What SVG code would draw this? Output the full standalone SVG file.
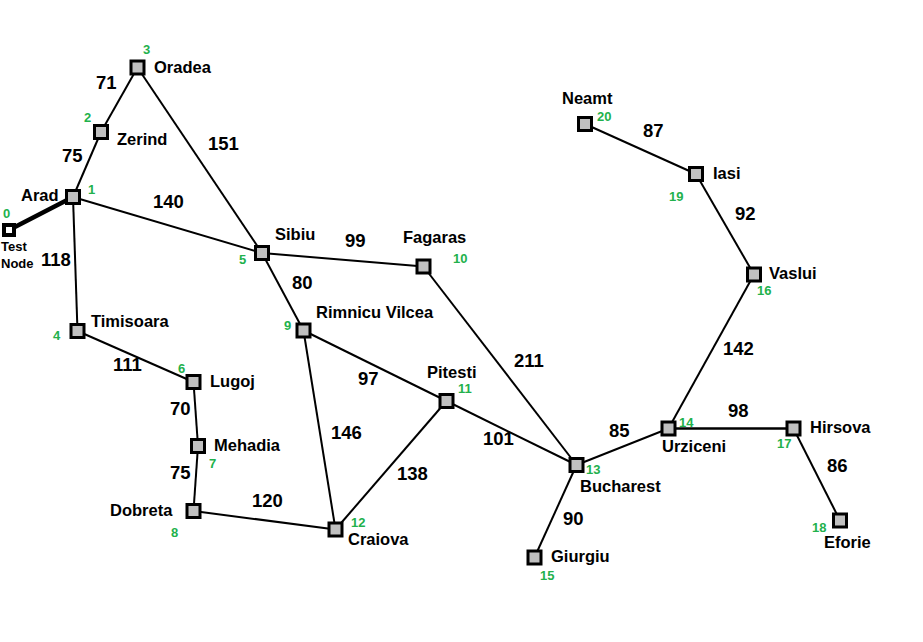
<svg xmlns="http://www.w3.org/2000/svg" width="923" height="642" viewBox="0 0 923 642">
<style>
.e{stroke:#000;stroke-width:2;fill:none}
.n{fill:#c0c0c0;stroke:#000;stroke-width:3}
.l{font-family:"Liberation Sans",Arial,sans-serif;font-weight:bold;font-size:16.5px;fill:#000}
.w{font-family:"Liberation Sans",Arial,sans-serif;font-weight:bold;font-size:18.5px;fill:#000}
.g{font-family:"Liberation Sans",Arial,sans-serif;font-weight:bold;font-size:13px;fill:#22b14c}
.t{font-family:"Liberation Sans",Arial,sans-serif;font-weight:bold;font-size:13px;fill:#000}
</style>
<rect width="923" height="642" fill="#fff"/>
<g id="connectors">
<line class="e" x1="9" y1="230" x2="73" y2="197" style="stroke-width:4.5"/>
<line class="e" x1="73" y1="197" x2="101" y2="132"/>
<line class="e" x1="101" y1="132" x2="137.5" y2="67.5"/>
<line class="e" x1="137.5" y1="67.5" x2="262" y2="253"/>
<line class="e" x1="73" y1="197" x2="262" y2="253"/>
<line class="e" x1="73" y1="197" x2="77.5" y2="331"/>
<line class="e" x1="77.5" y1="331" x2="193.5" y2="382"/>
<line class="e" x1="193.5" y1="382" x2="198" y2="446"/>
<line class="e" x1="198" y1="446" x2="193.5" y2="511"/>
<line class="e" x1="193.5" y1="511" x2="335.5" y2="529.5"/>
<line class="e" x1="262" y1="253" x2="423.5" y2="266.5"/>
<line class="e" x1="262" y1="253" x2="303.5" y2="330.5"/>
<line class="e" x1="303.5" y1="330.5" x2="446.5" y2="401"/>
<line class="e" x1="303.5" y1="330.5" x2="335.5" y2="529.5"/>
<line class="e" x1="446.5" y1="401" x2="335.5" y2="529.5"/>
<line class="e" x1="446.5" y1="401" x2="576.5" y2="465"/>
<line class="e" x1="423.5" y1="266.5" x2="576.5" y2="465"/>
<line class="e" x1="576.5" y1="465" x2="534.5" y2="557.5"/>
<line class="e" x1="576.5" y1="465" x2="668.5" y2="428.5"/>
<line class="e" x1="668.5" y1="428.5" x2="793.5" y2="428.5" style="stroke-width:2.5"/>
<line class="e" x1="793.5" y1="428.5" x2="840" y2="520.5"/>
<line class="e" x1="668.5" y1="428.5" x2="754" y2="274.5"/>
<line class="e" x1="754" y1="274.5" x2="696" y2="174"/>
<line class="e" x1="696" y1="174" x2="585" y2="124"/>
</g>
<g id="weights">
<text class="w" x="96" y="89">71</text>
<text class="w" x="62" y="162">75</text>
<text class="w" x="208" y="150">151</text>
<text class="w" x="153" y="208">140</text>
<text class="w" x="41" y="266">118</text>
<text class="w" x="113" y="371">111</text>
<text class="w" x="170" y="415">70</text>
<text class="w" x="170" y="479">75</text>
<text class="w" x="252" y="507">120</text>
<text class="w" x="345" y="247">99</text>
<text class="w" x="292" y="289">80</text>
<text class="w" x="358" y="385">97</text>
<text class="w" x="331" y="439">146</text>
<text class="w" x="397" y="480">138</text>
<text class="w" x="483" y="445">101</text>
<text class="w" x="514" y="367">211</text>
<text class="w" x="609" y="437">85</text>
<text class="w" x="563" y="525">90</text>
<text class="w" x="728" y="417">98</text>
<text class="w" x="827" y="472">86</text>
<text class="w" x="723" y="355">142</text>
<text class="w" x="735" y="220">92</text>
<text class="w" x="643" y="137">87</text>
</g>
<g id="node0"><rect x="4" y="225" width="10" height="10" fill="#fff" stroke="#000" stroke-width="4"/><text class="g" x="3" y="218">0</text><text class="t" x="1" y="251">Test</text><text class="t" x="1" y="268">Node</text></g>
<g id="node1"><rect class="n" x="66.5" y="190.5" width="13" height="13"/><text class="l" x="21" y="201">Arad</text><text class="g" x="88" y="194">1</text></g>
<g id="node2"><rect class="n" x="94.5" y="125.5" width="13" height="13"/><text class="l" x="117" y="145">Zerind</text><text class="g" x="84" y="122">2</text></g>
<g id="node3"><rect class="n" x="131" y="61" width="13" height="13"/><text class="l" x="154" y="73">Oradea</text><text class="g" x="143" y="54">3</text></g>
<g id="node4"><rect class="n" x="71" y="324.5" width="13" height="13"/><text class="l" x="91" y="327">Timisoara</text><text class="g" x="53" y="340">4</text></g>
<g id="node5"><rect class="n" x="255.5" y="246.5" width="13" height="13"/><text class="l" x="275" y="240">Sibiu</text><text class="g" x="239" y="264">5</text></g>
<g id="node6"><rect class="n" x="187" y="375.5" width="13" height="13"/><text class="l" x="210" y="387">Lugoj</text><text class="g" x="178" y="373">6</text></g>
<g id="node7"><rect class="n" x="191.5" y="439.5" width="13" height="13"/><text class="l" x="214" y="451">Mehadia</text><text class="g" x="209" y="468">7</text></g>
<g id="node8"><rect class="n" x="187" y="504.5" width="13" height="13"/><text class="l" x="110" y="516">Dobreta</text><text class="g" x="171" y="537">8</text></g>
<g id="node9"><rect class="n" x="297" y="324" width="13" height="13"/><text class="l" x="316" y="318">Rimnicu Vilcea</text><text class="g" x="284" y="330">9</text></g>
<g id="node10"><rect class="n" x="417" y="260" width="13" height="13"/><text class="l" x="403" y="243">Fagaras</text><text class="g" x="453" y="263">10</text></g>
<g id="node11"><rect class="n" x="440" y="394.5" width="13" height="13"/><text class="l" x="427" y="378">Pitesti</text><text class="g" x="458" y="393">11</text></g>
<g id="node12"><rect class="n" x="329" y="523" width="13" height="13"/><text class="l" x="348" y="545">Craiova</text><text class="g" x="351" y="527">12</text></g>
<g id="node13"><rect class="n" x="570" y="458.5" width="13" height="13"/><text class="l" x="580" y="492">Bucharest</text><text class="g" x="586" y="474">13</text></g>
<g id="node14"><rect class="n" x="662" y="422" width="13" height="13"/><text class="l" x="662" y="452">Urziceni</text><text class="g" x="679" y="427">14</text></g>
<g id="node15"><rect class="n" x="528" y="551" width="13" height="13"/><text class="l" x="551" y="562">Giurgiu</text><text class="g" x="540" y="580">15</text></g>
<g id="node16"><rect class="n" x="747.5" y="268" width="13" height="13"/><text class="l" x="769" y="279">Vaslui</text><text class="g" x="757" y="295">16</text></g>
<g id="node17"><rect class="n" x="787" y="422" width="13" height="13"/><text class="l" x="810" y="433">Hirsova</text><text class="g" x="777" y="448">17</text></g>
<g id="node18"><rect class="n" x="833.5" y="514" width="13" height="13"/><text class="l" x="824" y="548">Eforie</text><text class="g" x="812" y="532">18</text></g>
<g id="node19"><rect class="n" x="689.5" y="167.5" width="13" height="13"/><text class="l" x="713" y="179">Iasi</text><text class="g" x="669" y="201">19</text></g>
<g id="node20"><rect class="n" x="578.5" y="117.5" width="13" height="13"/><text class="l" x="562" y="104">Neamt</text><text class="g" x="597" y="121">20</text></g>
</svg>
